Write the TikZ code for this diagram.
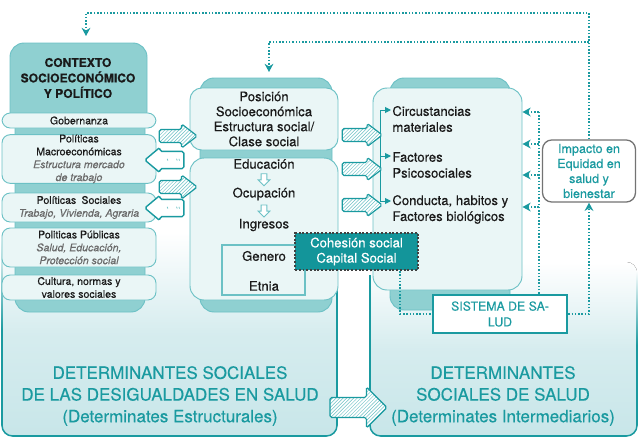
\documentclass[tikz,border=0pt]{standalone}
\usepackage{fontspec}
\setmainfont{TeX Gyre Heros}[FakeBold=0.35]
\usetikzlibrary{shapes.arrows,patterns,arrows.meta,calc}

\definecolor{tealdark}{HTML}{1A9AA0}
\definecolor{tealtab}{HTML}{8FD0D1}
\definecolor{tealline}{HTML}{6CC1C5}
\definecolor{rowfill}{HTML}{EAF6F6}
\definecolor{cohfill}{HTML}{13959A}
\definecolor{panelfill}{HTML}{C8E6E9}
\definecolor{subgray}{HTML}{6A6A6A}
\definecolor{inkgray}{HTML}{1A1A1A}

\newcommand\subtxt[1]{\textcolor{subgray}{\itshape #1}}

\tikzset{
  sz/.style 2 args={minimum width=#1*0.03cm, minimum height=#2*0.03cm},
  alen/.style={minimum height=#1*0.03cm},
  tab/.style={fill=tealtab, draw=tealline, line width=0.8pt},
  rowbox/.style={draw=tealline, fill=rowfill, line width=0.8pt, rounded corners=7pt,
    align=center, inner sep=0pt, text=inkgray, font=\fontsize{9}{11}\selectfont},
  midbox/.style={rowbox, rounded corners=10pt, font=\fontsize{11.2}{12.8}\selectfont},
  lbl/.style={inner sep=1pt, text=inkgray, font=\fontsize{11.2}{12.8}\selectfont},
  item/.style={lbl, anchor=west, align=left, font=\fontsize{11.2}{13.6}\selectfont},
  headtxt/.style={align=center, text=inkgray, font=\bfseries\fontsize{10.3}{13.2}\selectfont},
  cohbox/.style={fill=cohfill, draw=black!75, line width=1.8pt, dash pattern=on 1.6pt off 1.6pt,
    text=white, align=center, font=\fontsize{11.2}{13}\selectfont},
  impbox/.style={draw=black!55, line width=1.1pt, fill=white, rounded corners=8pt, text=tealdark,
    align=center, font=\fontsize{10.7}{12.8}\selectfont},
  sisbox/.style={draw=tealdark, line width=2.2pt, fill=white, text=tealdark, align=center,
    font=\fontsize{10.5}{13.5}\selectfont},
  bigtxt/.style={align=center, text=tealdark, font=\fontsize{14.5}{18.5}\selectfont},
  hatcharr/.style={single arrow, draw=tealdark, line width=1pt, inner xsep=0pt,
    preaction={fill=white}, pattern=north east lines, pattern color=tealline,
    rounded corners=1.5pt, single arrow tip angle=75},
  backarr/.style={single arrow, draw=tealdark, line width=1.2pt, inner xsep=0pt, fill=white,
    rounded corners=1.5pt, rotate=180, single arrow tip angle=80},
  downarr/.style={single arrow, draw=tealline, line width=0.8pt, fill=white, inner sep=2.1pt,
    rotate=270, alen=12, single arrow head extend=2.5pt},
  dotline/.style={draw=tealdark, line width=1.3pt, dash pattern=on 1.3pt off 1.5pt},
  dotarr/.style={dotline, -{Stealth[length=7pt,width=7.5pt]}},
  stemarr/.style={draw=tealdark, line width=0.8pt, -{Triangle[length=5pt,width=5pt]}},
  panelline/.style={draw=tealdark, line width=1.3pt},
  tick/.style={tealline, line width=0.6pt},
}

\begin{document}
\begin{tikzpicture}[x=0.03cm,y=-0.03cm]
\useasboundingbox (0,0) rectangle (640,439);

% panels at the bottom
\fill[top color=white,bottom color=panelfill,middle color=panelfill!75!white,rounded corners=9pt] (2,232) rectangle (337,436);
\fill[top color=white,bottom color=panelfill,middle color=panelfill!75!white,rounded corners=9pt] (370,262) rectangle (637,436);
\draw[panelline,rounded corners=9pt] (2,330) -- (2,436) -- (337,436) -- (337,290);
\shade[top color=white,bottom color=tealdark] (1.25,240) rectangle (2.75,330);
\draw[panelline,rounded corners=9pt] (370,275) -- (370,436) -- (637,436) -- (637,345);
\shade[top color=white,bottom color=tealdark] (636.25,270) rectangle (637.75,345);

% tabs behind the columns
\draw[tab,rounded corners=12pt] (15,110) rectangle (145,312);
\draw[tab,rounded corners=12pt] (10,120) -- (10,43) -- (147,43) -- (147,120);
\draw[tab,rounded corners=12pt] (200,78) rectangle (332,312);
\draw[tab,rounded corners=12pt] (390,78) rectangle (510,310);

% contexto
\node[headtxt] (ctx) at (78,78) {CONTEXTO\\SOCIOECONÓMICO\\Y POLÍTICO};
\node[rowbox,sz={154}{15}] (gob) at (79,120.5) {Gobernanza};
\node[rowbox,sz={154}{48}] (macro) at (79,159) {Políticas\\Macroeconómicas\\\subtxt{Estructura mercado}\\\subtxt{de trabajo}};
\node[rowbox,sz={154}{29}] (soc) at (79,207.5) {Políticas\enspace Sociales\\\subtxt{Trabajo, Vivienda, Agraria}};
\node[rowbox,sz={154}{39}] (pub) at (79,247.5) {Politicas Públicas\\\subtxt{Salud, Educación,}\\\subtxt{Protección social}};
\node[rowbox,sz={154}{25}] (cult) at (79,287.5) {Cultura, normas y\\valores sociales};

% intermediarios
\node[rowbox,rounded corners=12pt,sz={149}{202}] (rbox) at (447.5,189) {};
\node[item] (cir) at (391,119) {Circustancias\\materiales};
\node[item] (psi) at (391,165) {Factores\\Psicosociales};
\node[item] (con) at (391,209.5) {Conducta, habitos y\\Factores biológicos};
\coordinate (st1) at (380,110);
\coordinate (st2) at (380,156);
\coordinate (st3) at (380,201);
\draw[tealdark,line width=0.8pt] (st1) -- (st3);
\foreach \s/\t in {st1/cir,st2/psi,st3/con}
  \draw[stemarr] (\s) -- (\t.west |- \s);

% posicion socioeconomica
\node[midbox,sz={148}{62}] (pos) at (264,119) {Posición\\Socioeconómica\\Estructura social/\\Clase social};
\node[rowbox,rounded corners=12pt,sz={148}{142}] (lowbox) at (264,229) {};
\node[lbl] (edu) at (264,164) {Educación};
\node[lbl] (ocu) at (264,194) {Ocupación};
\node[lbl] (ing) at (264,225) {Ingresos};
\node[downarr] (eo) at ($(edu.south)!0.5!(ocu.north)$) {};
\node[downarr] (oi) at ($(ocu.south)!0.5!(ing.north)$) {};
\node[draw=tealline,line width=0.9pt,sz={83}{50}] (gebox) at (263.5,270) {};
\node[lbl] (gen) at (264,256) {Genero};
\node[lbl] (etn) at (264,286) {Etnia};
\node[cohbox,sz={123}{37}] (coh) at (356.5,251.5) {Cohesión social\\Capital Social};

% block arrows
\node[hatcharr,alen=38,inner ysep=5.1pt,single arrow head extend=4.7pt] (tp1) at (174,136) {};
\node[hatcharr,alen=38,inner ysep=5.1pt,single arrow head extend=4.7pt] (tp2) at (174,187) {};
\node[backarr,alen=39,inner ysep=6.8pt,single arrow head extend=3.4pt] (fp1) at (169.5,160) {};
\node[backarr,alen=39,inner ysep=6.8pt,single arrow head extend=3.4pt] (fp2) at (169.5,208) {};
\foreach \a in {fp1,fp2} {
  \draw[tick] ([xshift=-2pt,yshift=1pt]\a.center) -- ++(0.6pt,-1.5pt);
  \draw[tick] ([xshift=6pt,yshift=1pt]\a.center) -- ++(0.6pt,-1.5pt);
  \draw[tick] ([xshift=8pt,yshift=1pt]\a.center) -- ++(0.6pt,-1.5pt);
}
\foreach \y [count=\i] in {135,169,205}
  \node[hatcharr,alen=40,inner ysep=5.1pt,single arrow head extend=4.3pt] (ti\i) at (358,\y) {};

% impacto y sistema de salud
\node[impbox,sz={93}{62}] (imp) at (589,171) {Impacto en\\Equidad en\\salud y\\bienestar};
\node[sisbox,sz={134}{38}] (sis) at (500,314) {SISTEMA DE SA-\\LUD};

% dotted feedback
\coordinate (dv1) at (539,112);
\coordinate (dv2) at (539,144);
\coordinate (dv3) at (539,175);
\coordinate (dv4) at (539,207);
\draw[dotline] (sis.north -| dv1) -- (dv1);
\foreach \d in {dv1,dv2,dv3,dv4}
  \draw[dotarr] (\d) -- (rbox.east |- \d);
\coordinate (cohdrop) at (400,0);
\draw[dotline] (coh.south -| cohdrop) |- (sis.west);
\draw[dotarr] (sis.east) -| (imp.south);
\coordinate (fbtop) at (86,13);
\coordinate (ctxin) at (86,36);
\draw[dotarr] (imp.north) |- (fbtop) -- (ctxin);
\coordinate (fbjoin) at (589,42);
\coordinate (midin) at (269,72);
\draw[dotarr] (fbjoin) -| (midin);

% bottom
\node[hatcharr,alen=57,inner ysep=8.1pt,single arrow head extend=9pt,single arrow tip angle=90] (big) at (353.5,407.5) {};
\node[bigtxt] (dsd) at (170,396) {DETERMINANTES SOCIALES\\DE LAS DESIGUALDADES EN SALUD\\(Determinates Estructurales)};
\node[bigtxt] (dsi) at (503,396) {DETERMINANTES\\SOCIALES DE SALUD\\(Determinates Intermediarios)};
\end{tikzpicture}
\end{document}
